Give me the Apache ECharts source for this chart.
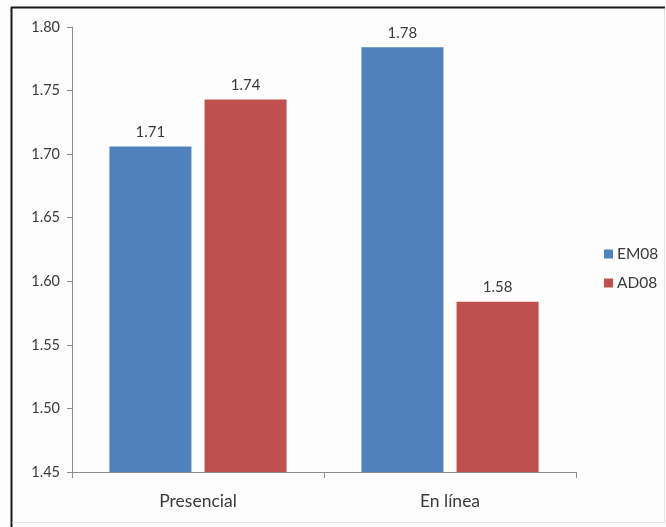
<!DOCTYPE html>
<html>
<head>
<meta charset="utf-8">
<script src="https://cdn.jsdelivr.net/npm/echarts@6/dist/echarts.min.js"></script>
<style>
  html, body { margin: 0; padding: 0; background: #ffffff; }
  #chart { width: 666px; height: 527px; }
</style>
</head>
<body>
<div id="chart"></div>
<script>
// Categories, series and axis range
const categories = ['Presencial', 'En línea'];
const seriesNames = ['EM08', 'AD08'];
const em08Values = [1.706, 1.784];
const ad08Values = [1.743, 1.584];
const yMin = 1.45;
const yMax = 1.80;
const yStep = 0.05;

const FONT = 'Lato, "Open Sans", sans-serif';
const TEXT = '#3a3a3a';

const chart = echarts.init(document.getElementById('chart'), null, { renderer: 'canvas' });

const valueLabel = {
  show: true,
  position: 'top',
  distance: 7,
  color: TEXT,
  fontSize: 15,
  fontFamily: FONT,
  formatter: p => p.value.toFixed(2)
};

chart.setOption({
  backgroundColor: '#fdfdfd',
  animation: false,
  grid: { left: 72, right: 90, top: 27, bottom: 55, containLabel: false },
  legend: {
    orient: 'vertical',
    left: 599,
    top: 241,
    itemWidth: 9,
    itemHeight: 9,
    itemGap: 13,
    icon: 'rect',
    textStyle: { color: TEXT, fontSize: 15.5, fontFamily: FONT, padding: [0, 0, 0, -1] },
    data: seriesNames
  },
  xAxis: {
    type: 'category',
    data: categories,
    axisLine: { lineStyle: { color: '#8c8c8c', width: 1 } },
    axisTick: { show: true, length: 6, lineStyle: { color: '#8c8c8c' } },
    axisLabel: { color: TEXT, fontSize: 17.5, fontFamily: FONT, margin: 20 }
  },
  yAxis: {
    type: 'value',
    min: yMin,
    max: yMax,
    interval: yStep,
    axisLine: { show: true, lineStyle: { color: '#8c8c8c', width: 1 } },
    axisTick: { show: true, length: 5, lineStyle: { color: '#8c8c8c' } },
    splitLine: { show: false },
    axisLabel: {
      color: TEXT, fontSize: 14.5, fontFamily: FONT, margin: 12,
      formatter: v => v.toFixed(2)
    }
  },
  series: [
    {
      name: seriesNames[0],
      type: 'bar',
      data: em08Values,
      barWidth: 82,
      barGap: '16%',
      itemStyle: { color: '#4f81bd' },
      label: valueLabel
    },
    {
      name: seriesNames[1],
      type: 'bar',
      data: ad08Values,
      barWidth: 82,
      itemStyle: { color: '#c0504d' },
      label: valueLabel
    }
  ],
  graphic: [
    // frame: dark top and left edges, light right and bottom edges
    { type: 'line', shape: { x1: 11, y1: 7.5, x2: 665, y2: 7.5 }, style: { stroke: '#1a1a1a', lineWidth: 2 } },
    { type: 'line', shape: { x1: 11.5, y1: 7, x2: 11.5, y2: 527 }, style: { stroke: '#1a1a1a', lineWidth: 2 } },
    { type: 'line', shape: { x1: 664.5, y1: 9, x2: 664.5, y2: 522 }, style: { stroke: '#e4e4e4', lineWidth: 1 } },
    { type: 'line', shape: { x1: 12, y1: 522.5, x2: 665, y2: 522.5 }, style: { stroke: '#e4e4e4', lineWidth: 1 } }
  ]
});
</script>
</body>
</html>
